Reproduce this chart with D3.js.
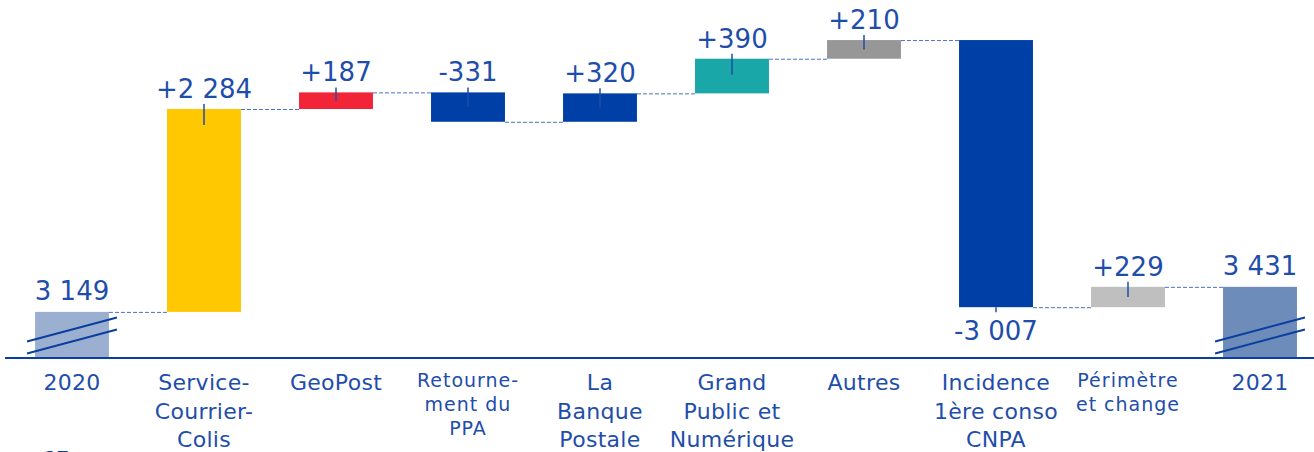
<!DOCTYPE html>
<html>
<head>
<meta charset="utf-8">
<script src="https://cdn.jsdelivr.net/npm/d3@7"></script>
<style>
  html, body { margin: 0; padding: 0; background: #fff; }
  svg { display: block; font-family: "DejaVu Sans", sans-serif; }
</style>
</head>
<body>
<div id="chart"></div>
<script>
const categories = ["2020", "Service-Courrier-Colis", "GeoPost", "Retournement du PPA", "La Banque Postale",
  "Grand Public et Numérique", "Autres", "Incidence 1ère conso CNPA", "Périmètre et change", "2021"];
const categoryLines = [
  ["2020"],
  ["Service-", "Courrier-", "Colis"],
  ["GeoPost"],
  ["Retourne-", "ment du", "PPA"],
  ["La", "Banque", "Postale"],
  ["Grand", "Public et", "Numérique"],
  ["Autres"],
  ["Incidence", "1ère conso", "CNPA"],
  ["Périmètre", "et change"],
  ["2021"]
];
const values = [3149, 2284, 187, -331, 320, 390, 210, -3007, 229, 3431];
const isTotal = [true, false, false, false, false, false, false, false, false, true];
const valueLabels = ["3 149", "+2 284", "+187", "-331", "+320", "+390", "+210", "-3 007", "+229", "3 431"];
const barColors = ["#9bb0d0", "#ffc800", "#f12537", "#0040a6", "#0040a6", "#1aa7a7", "#979797", "#0040a6", "#bfbfbf", "#6e8cba"];

const width = 1314, height = 452;
const textColor = "#1e4daa";
const axisY = 358;

const svg = d3.select("#chart").append("svg")
  .attr("width", width)
  .attr("height", height);

const x = d3.scaleBand()
  .domain(categories)
  .range([6, 1326])
  .paddingInner(0.44)
  .paddingOuter(0.22);

// broken axis: baseline does not start at 0
const y = d3.scaleLinear()
  .domain([2630, 6660])
  .range([axisY, 0]);

// running totals
let running = 0;
const bars = categories.map((c, i) => {
  let start, end;
  if (isTotal[i]) {
    start = null;
    end = values[i];
  } else {
    start = running;
    end = running + values[i];
  }
  running = end;
  return { cat: c, i, start, end, value: values[i] };
});

// connectors
const connectors = bars.slice(0, -1).map((b, i) => ({ from: b, to: bars[i + 1], level: b.end }));
svg.selectAll("line.conn")
  .data(connectors)
  .enter()
  .append("line")
  .attr("class", "conn")
  .attr("x1", d => x(d.from.cat) + x.bandwidth())
  .attr("x2", d => x(d.to.cat))
  .attr("y1", d => y(d.level) + 0.5)
  .attr("y2", d => y(d.level) + 0.5)
  .attr("stroke", "#4a72c0")
  .attr("stroke-width", 1)
  .attr("stroke-dasharray", "4,2");

// bars
svg.selectAll("rect.bar")
  .data(bars)
  .enter()
  .append("rect")
  .attr("class", "bar")
  .attr("x", d => x(d.cat))
  .attr("width", x.bandwidth())
  .attr("y", d => d.start === null ? y(d.end) : y(Math.max(d.start, d.end)))
  .attr("height", d => d.start === null ? axisY - y(d.end) : Math.abs(y(d.start) - y(d.end)))
  .attr("fill", (d, i) => barColors[i]);

// small ticks linking labels to bars
const tickData = bars.filter(d => d.start !== null);
svg.selectAll("line.tick")
  .data(tickData)
  .enter()
  .append("line")
  .attr("class", "tick")
  .attr("x1", d => x(d.cat) + x.bandwidth() / 2)
  .attr("x2", d => x(d.cat) + x.bandwidth() / 2)
  .attr("y1", d => {
    if (d.value < -1000) return y(Math.min(d.start, d.end));
    return y(Math.max(d.start, d.end)) - 5;
  })
  .attr("y2", d => {
    if (d.value < -1000) return y(Math.min(d.start, d.end)) + 5;
    const top = y(Math.max(d.start, d.end));
    const h = Math.abs(y(d.start) - y(d.end));
    return top + Math.min(h / 2, 16);
  })
  .attr("stroke", textColor)
  .attr("stroke-width", 1.5);

// value labels
svg.selectAll("text.val")
  .data(bars)
  .enter()
  .append("text")
  .attr("class", "val")
  .attr("x", d => x(d.cat) + x.bandwidth() / 2)
  .attr("y", d => {
    if (d.start === null) return y(d.end) - 12;
    if (d.value < -1000) return y(Math.min(d.start, d.end)) + 33;
    return y(Math.max(d.start, d.end)) - 11;
  })
  .attr("text-anchor", "middle")
  .attr("font-size", "26px")
  .attr("fill", textColor)
  .text((d, i) => valueLabels[i]);

// axis line
svg.append("line")
  .attr("x1", 5)
  .attr("x2", width)
  .attr("y1", axisY)
  .attr("y2", axisY)
  .attr("stroke", "#0a3fa0")
  .attr("stroke-width", 2);

// break marks on total bars
const breaks = bars.filter(d => d.start === null);
breaks.forEach(d => {
  const x0 = x(d.cat) - 8;
  const x1 = x(d.cat) + x.bandwidth() + 8;
  [0, 12].forEach(off => {
    svg.append("line")
      .attr("x1", x0)
      .attr("x2", x1)
      .attr("y1", 341.5 + off)
      .attr("y2", 317.5 + off)
      .attr("stroke", "#0a3fa0")
      .attr("stroke-width", 2);
  });
});

// category labels
const smallCats = ["Retournement du PPA", "Périmètre et change"];
const catLabel = svg.selectAll("text.cat")
  .data(categories)
  .enter()
  .append("text")
  .attr("class", "cat")
  .attr("x", d => x(d) + x.bandwidth() / 2)
  .attr("y", d => smallCats.includes(d) ? 387 : 390)
  .attr("text-anchor", "middle")
  .attr("font-size", d => smallCats.includes(d) ? "19px" : "22px")
  .attr("letter-spacing", d => smallCats.includes(d) ? "1px" : "0.3px")
  .attr("fill", textColor);

catLabel.each(function (d, i) {
  const small = smallCats.includes(d);
  d3.select(this).selectAll("tspan")
    .data(categoryLines[i])
    .enter()
    .append("tspan")
    .attr("x", x(d) + x.bandwidth() / 2)
    .attr("dy", (t, j) => j === 0 ? 0 : (small ? 24 : 28.5))
    .text(t => t);
});

// page number, cut off at the bottom
svg.append("text")
  .attr("x", 44)
  .attr("y", 464)
  .attr("font-size", "18px")
  .attr("font-weight", "bold")
  .attr("fill", "#0a3fa0")
  .text("17");
</script>
</body>
</html>
